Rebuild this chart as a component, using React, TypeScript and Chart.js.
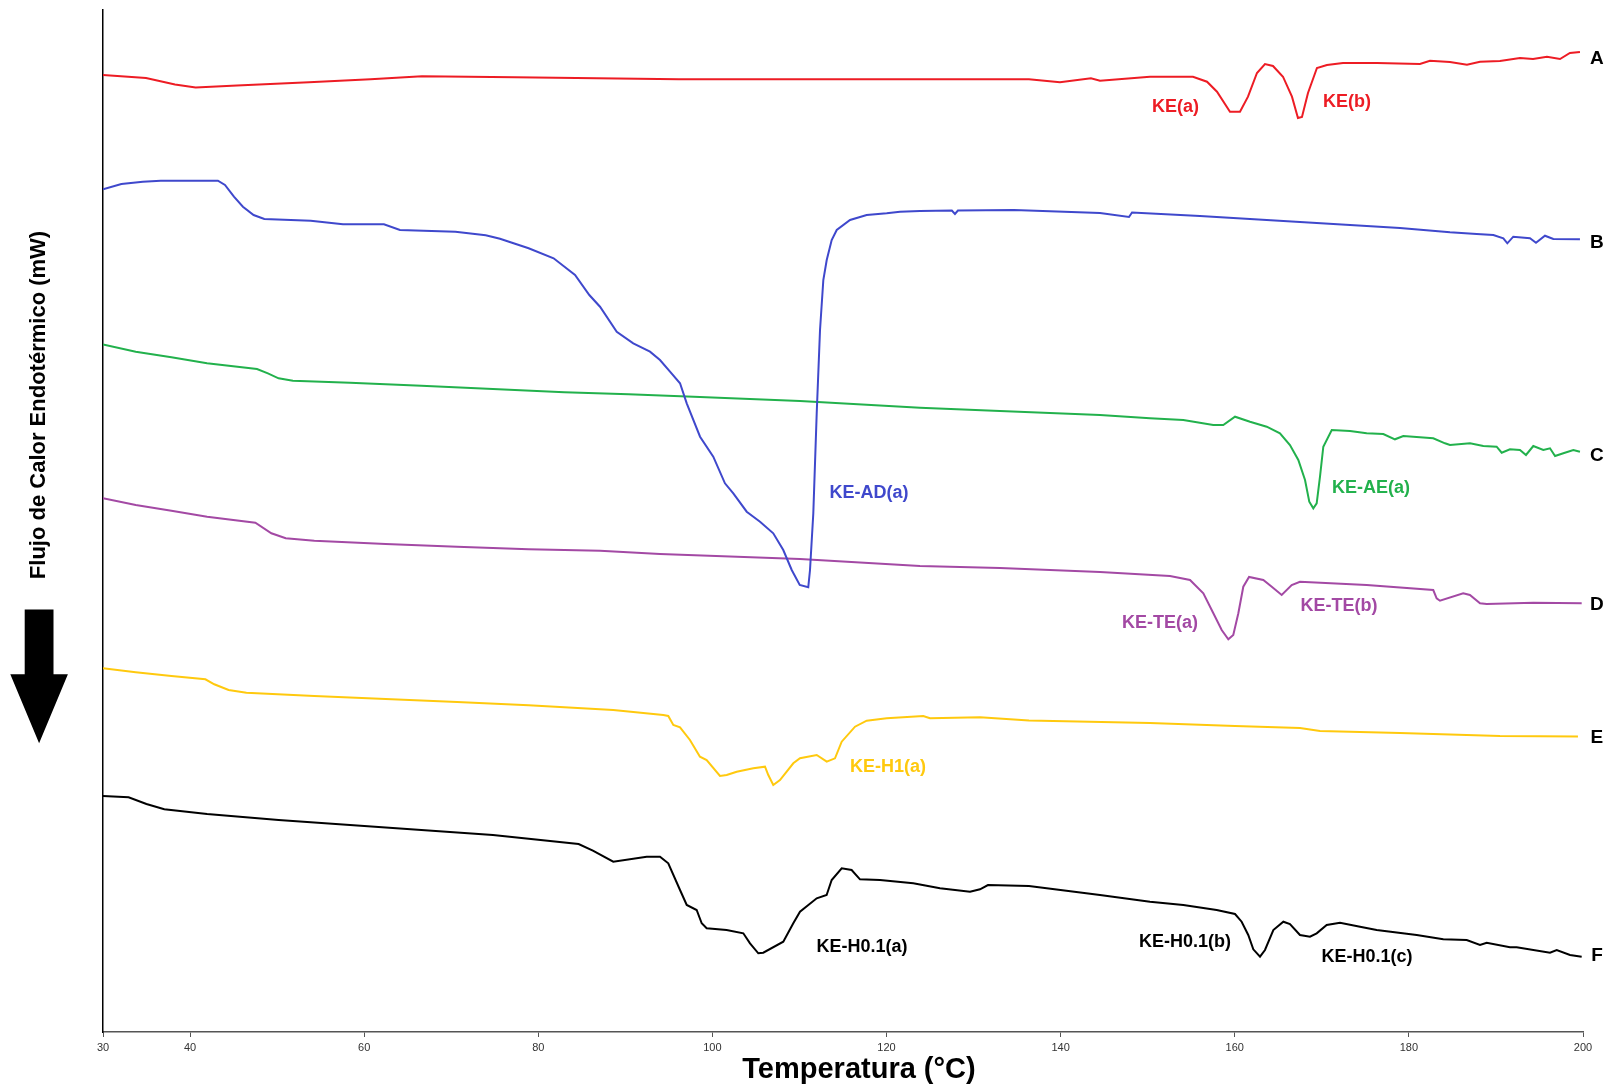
import React, { useEffect, useRef } from 'react';
import { Chart, registerables } from 'chart.js';

Chart.register(...registerables);

// Temperature (°C) and heat-flow (arbitrary mW offset units) for each trace
const tempA = [30, 34.94, 38.27, 40.64, 45.39, 53.66, 60.73, 66.64, 77.29, 96.16, 112.7, 136.36, 139.92, 143.48, 144.52, 150.26, 155.2, 156.81, 157.96, 159.45, 160.6, 161.52, 162.55, 163.47, 164.39, 165.54, 166.57, 167.26, 167.72, 168.41, 169.44, 170.59, 172.43, 176.33, 181.27, 182.42, 184.72, 186.67, 188.17, 190.46, 192.76, 194.26, 195.86, 197.36, 198.5, 199.65];
const flowA = [95.7, 95.4, 94.76, 94.45, 94.66, 94.97, 95.27, 95.58, 95.48, 95.27, 95.27, 95.27, 94.97, 95.38, 95.13, 95.53, 95.53, 95.03, 94.03, 92.03, 92.03, 93.53, 95.9, 96.8, 96.6, 95.53, 93.53, 91.4, 91.5, 93.9, 96.4, 96.7, 96.9, 96.9, 96.8, 97.13, 97.0, 96.73, 97.03, 97.1, 97.4, 97.3, 97.53, 97.3, 97.9, 98.0];

const tempB = [30, 32.11, 34.58, 36.63, 43.2, 44.01, 45.04, 46.07, 47.3, 48.53, 53.86, 57.56, 62.27, 64.11, 70.48, 73.96, 75.6, 78.89, 81.76, 84.22, 85.86, 87.09, 89.01, 90.91, 92.83, 93.98, 95.13, 96.28, 97.05, 98.58, 100.1, 101.44, 102.4, 103.94, 105.47, 106.99, 108.14, 109.11, 110.03, 111.01, 111.21, 111.59, 111.98, 112.36, 112.74, 113.13, 113.7, 114.28, 115.81, 117.72, 120.02, 121.55, 123.84, 127.5, 127.86, 128.2, 134.64, 144.52, 147.85, 148.2, 156.0, 167.5, 178.98, 184.72, 187.79, 189.7, 190.85, 191.31, 191.99, 193.91, 194.6, 195.63, 196.59, 199.65];
const flowB = [84.27, 84.8, 85.03, 85.13, 85.13, 84.7, 83.53, 82.53, 81.7, 81.3, 81.13, 80.77, 80.77, 80.2, 80.03, 79.67, 79.33, 78.37, 77.37, 75.7, 73.7, 72.53, 70.03, 68.87, 68.03, 67.2, 66.03, 64.87, 62.87, 59.53, 57.53, 54.87, 53.87, 52.03, 51.03, 49.87, 48.2, 46.2, 44.7, 44.47, 46.2, 51.87, 61.87, 70.2, 75.2, 77.2, 79.2, 80.2, 81.2, 81.7, 81.87, 82.03, 82.1, 82.15, 81.8, 82.15, 82.2, 81.9, 81.5, 81.95, 81.6, 81.0, 80.4, 79.97, 79.8, 79.7, 79.37, 78.87, 79.53, 79.37, 78.93, 79.63, 79.3, 79.27];

const tempC = [30, 33.76, 37.86, 41.95, 47.69, 48.94, 50.17, 51.81, 58.37, 66.57, 74.79, 82.99, 90.37, 98.57, 110.06, 123.84, 133.03, 144.52, 150.26, 154.09, 157.53, 158.68, 160.03, 161.75, 163.67, 165.19, 166.34, 167.3, 168.07, 168.56, 169.02, 169.41, 169.79, 170.17, 171.14, 173.24, 175.15, 177.06, 178.4, 179.36, 182.8, 184.15, 184.72, 187.02, 188.55, 190.08, 190.66, 191.61, 192.76, 193.45, 194.29, 195.44, 196.21, 196.79, 197.74, 198.89, 199.65];
const flowC = [68.75, 68.03, 67.47, 66.87, 66.3, 65.87, 65.37, 65.13, 64.93, 64.63, 64.3, 63.97, 63.77, 63.5, 63.1, 62.43, 62.1, 61.7, 61.37, 61.2, 60.7, 60.7, 61.53, 61.03, 60.53, 59.87, 58.7, 57.2, 55.2, 53.03, 52.37, 52.87, 55.53, 58.53, 60.2, 60.1, 59.87, 59.8, 59.27, 59.6, 59.37, 58.87, 58.7, 58.87, 58.6, 58.53, 57.93, 58.27, 58.2, 57.7, 58.6, 58.2, 58.37, 57.6, 57.87, 58.2, 58.03];

const tempD = [30, 33.76, 37.86, 41.96, 47.5, 49.34, 50.99, 54.27, 62.47, 70.66, 78.89, 87.09, 93.98, 110.06, 123.84, 133.03, 144.52, 152.56, 154.86, 156.39, 157.54, 158.5, 159.26, 159.83, 160.41, 160.98, 161.64, 163.28, 164.25, 165.39, 166.54, 167.49, 175.15, 182.8, 183.19, 183.57, 186.24, 187.01, 188.17, 188.94, 194.29, 199.85];
const flowD = [53.37, 52.7, 52.13, 51.53, 50.93, 49.87, 49.37, 49.13, 48.8, 48.53, 48.27, 48.13, 47.8, 47.3, 46.6, 46.4, 46.0, 45.6, 45.2, 43.87, 41.87, 40.2, 39.27, 39.7, 41.87, 44.53, 45.5, 45.2, 44.53, 43.7, 44.7, 45.03, 44.7, 44.2, 43.37, 43.13, 43.87, 43.7, 42.87, 42.8, 42.93, 42.87];

const tempE = [30, 33.76, 37.86, 41.76, 42.78, 44.43, 46.47, 54.27, 62.47, 70.67, 78.89, 88.61, 94.36, 94.93, 95.51, 96.28, 97.42, 98.57, 99.34, 100.87, 101.64, 102.79, 104.7, 106.04, 106.42, 106.99, 107.76, 109.29, 110.06, 111.98, 113.13, 114.08, 114.85, 116.38, 117.72, 120.02, 124.22, 124.99, 130.74, 136.36, 150.26, 160.03, 167.49, 169.79, 178.98, 190.46, 199.42];
const flowE = [36.37, 35.97, 35.6, 35.27, 34.77, 34.2, 33.93, 33.6, 33.3, 33.0, 32.67, 32.2, 31.7, 31.6, 30.7, 30.47, 29.2, 27.53, 27.2, 25.6, 25.7, 26.03, 26.37, 26.53, 25.7, 24.7, 25.2, 26.87, 27.37, 27.7, 27.03, 27.37, 29.03, 30.53, 31.13, 31.37, 31.6, 31.37, 31.47, 31.15, 30.9, 30.6, 30.4, 30.1, 29.9, 29.6, 29.55];

const tempF = [30, 32.94, 34.99, 37.04, 41.96, 50.17, 58.37, 66.57, 74.79, 84.63, 86.27, 88.61, 92.45, 93.98, 94.93, 96.28, 97.05, 98.19, 98.77, 99.34, 101.63, 103.55, 104.32, 105.27, 105.84, 108.14, 109.29, 110.06, 111.98, 113.12, 113.7, 114.85, 115.99, 116.95, 119.25, 123.07, 126.14, 129.59, 130.74, 131.65, 136.36, 144.52, 150.26, 154.09, 157.92, 160.03, 160.79, 161.55, 162.13, 162.9, 163.47, 164.43, 165.58, 166.34, 167.49, 168.64, 169.41, 170.56, 172.09, 174.39, 176.3, 180.9, 183.95, 186.64, 188.17, 188.94, 191.61, 192.38, 196.21, 196.98, 198.51, 199.85];
const flowF = [23.6, 23.47, 22.8, 22.27, 21.8, 21.2, 20.7, 20.2, 19.7, 18.8, 18.13, 17.03, 17.53, 17.53, 16.87, 14.2, 12.7, 12.2, 10.87, 10.37, 10.2, 9.87, 8.87, 7.87, 7.93, 9.03, 10.87, 12.03, 13.37, 13.7, 15.2, 16.37, 16.2, 15.27, 15.2, 14.87, 14.37, 14.03, 14.27, 14.7, 14.6, 13.7, 13.03, 12.7, 12.2, 11.8, 11.03, 9.7, 8.27, 7.53, 8.2, 10.2, 11.03, 10.8, 9.7, 9.53, 9.87, 10.7, 10.93, 10.53, 10.2, 9.7, 9.27, 9.2, 8.7, 8.93, 8.47, 8.47, 7.93, 8.2, 7.7, 7.53];

const xTickValues = [30, 40, 60, 80, 100, 120, 140, 160, 180, 200];

const seriesNames = ['A', 'B', 'C', 'D', 'E', 'F'];
const seriesColors = ['#ED1C24', '#3F48CC', '#22B14C', '#A349A4', '#FFC90E', '#000000'];
const seriesLetterLevel = [97.3, 78.9, 57.6, 42.7, 29.4, 7.6];

// Peak annotations: text, series index, temperature, level
const peakText = ['KE(a)', 'KE(b)', 'KE-AD(a)', 'KE-AE(a)', 'KE-TE(a)', 'KE-TE(b)', 'KE-H1(a)', 'KE-H0.1(a)', 'KE-H0.1(b)', 'KE-H0.1(c)'];
const peakSeries = [0, 0, 1, 2, 3, 3, 4, 5, 5, 5];
const peakTemp = [153.2, 172.9, 117.99, 175.65, 151.41, 171.97, 120.17, 117.18, 154.28, 175.19];
const peakLevel = [92.5, 93.0, 53.9, 54.4, 40.9, 42.6, 26.5, 8.5, 9.0, 7.5];

const FONT = '"Liberation Sans", Arial, Helvetica, sans-serif';

function zip(t: number[], v: number[]) {
  const n = Math.min(t.length, v.length);
  const out: { x: number; y: number }[] = [];
  for (let i = 0; i < n; i++) out.push({ x: t[i], y: v[i] });
  return out;
}

const decorPlugin = {
  id: 'decor',
  afterDraw(chart: any) {
    const { ctx, chartArea, scales } = chart;
    const xs = scales.x;
    const ys = scales.y;
    ctx.save();
    // peak labels
    ctx.font = `bold 18px ${FONT}`;
    ctx.textAlign = 'center';
    ctx.textBaseline = 'middle';
    for (let i = 0; i < peakText.length; i++) {
      ctx.fillStyle = seriesColors[peakSeries[i]];
      ctx.fillText(peakText[i], xs.getPixelForValue(peakTemp[i]), ys.getPixelForValue(peakLevel[i]));
    }
    // series letters
    ctx.font = `bold 19px ${FONT}`;
    ctx.fillStyle = '#000';
    for (let i = 0; i < seriesNames.length; i++) {
      ctx.fillText(seriesNames[i], xs.getPixelForValue(201.6), ys.getPixelForValue(seriesLetterLevel[i]));
    }
    // x title
    ctx.font = `bold 29px ${FONT}`;
    ctx.fillText('Temperatura (°C)', (chartArea.left + chartArea.right) / 2 + 16, chartArea.bottom + 38);
    // y title
    ctx.save();
    ctx.translate(38.6, 405);
    ctx.rotate(-Math.PI / 2);
    ctx.font = `bold 22px ${FONT}`;
    ctx.fillText('Flujo de Calor Endotérmico (mW)', 0, 0);
    ctx.restore();
    // arrow
    ctx.beginPath();
    ctx.moveTo(24.7, 609.4);
    ctx.lineTo(53.5, 609.4);
    ctx.lineTo(53.5, 674.2);
    ctx.lineTo(67.9, 674.2);
    ctx.lineTo(39.1, 743.2);
    ctx.lineTo(10.3, 674.2);
    ctx.lineTo(24.7, 674.2);
    ctx.closePath();
    ctx.fillStyle = '#000';
    ctx.fill();
    ctx.restore();
  },
};

export default function App() {
  const ref = useRef<HTMLCanvasElement>(null);
  useEffect(() => {
    const canvas = ref.current;
    if (!canvas) return;
    const temps = [tempA, tempB, tempC, tempD, tempE, tempF];
    const flows = [flowA, flowB, flowC, flowD, flowE, flowF];
    const chart = new Chart(canvas, {
      type: 'line',
      data: {
        datasets: seriesNames.map((name, i) => ({
          label: name,
          data: zip(temps[i], flows[i]),
          borderColor: seriesColors[i],
          backgroundColor: seriesColors[i],
          borderWidth: 2,
          pointRadius: 0,
          tension: 0,
          fill: false,
        })),
      },
      options: {
        responsive: false,
        animation: false,
        devicePixelRatio: 1,
        layout: { padding: { left: 103, right: 31, top: 10, bottom: 28 } },
        plugins: { legend: { display: false }, tooltip: { enabled: false } },
        scales: {
          x: {
            type: 'linear',
            min: 30,
            max: 200,
            afterBuildTicks: (axis: any) => {
              axis.ticks = xTickValues.map((v) => ({ value: v }));
            },
            afterFit: (s: any) => {
              s.height = 30;
            },
            grid: { display: true, drawOnChartArea: false, drawTicks: true, tickLength: 5, color: '#555', lineWidth: 1 },
            border: { display: true, color: '#555', width: 1.5 },
            ticks: {
              autoSkip: false,
              maxRotation: 0,
              padding: 4,
              color: '#333',
              font: { family: FONT, size: 11 },
            },
          },
          y: {
            type: 'linear',
            min: 0,
            max: 102.2,
            afterFit: (s: any) => {
              s.width = 0;
            },
            grid: { display: false, drawTicks: false },
            border: { display: true, color: '#000', width: 1.5 },
            ticks: { display: false },
          },
        },
      },
      plugins: [decorPlugin],
    } as any);
    return () => chart.destroy();
  }, []);
  return (
    <div style={{ position: 'absolute', left: 0, top: 0, width: 1614, height: 1090, background: '#fff' }}>
      <canvas ref={ref} width={1614} height={1090} style={{ display: 'block', width: 1614, height: 1090 }} />
    </div>
  );
}
